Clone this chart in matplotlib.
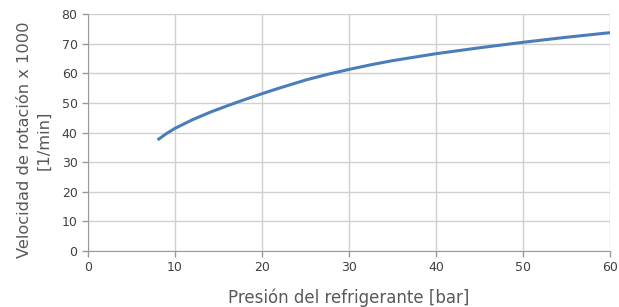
import matplotlib

matplotlib.use("Agg")
import matplotlib.pyplot as plt

pressure = [8, 9, 10, 12, 14, 16, 18, 20, 22, 25, 27.5, 30, 32.5, 35, 40, 45, 50, 55, 60]
speed = [37.5, 39.6, 41.4, 44.3, 46.8, 49.0, 51.1, 53.1, 55.0, 57.7, 59.6, 61.3,
         62.85, 64.25, 66.6, 68.6, 70.45, 72.15, 73.7]

x_ticks = list(range(0, 61, 10))
y_ticks = list(range(0, 81, 10))

TXT = "#595959"
GRID = "#d0d0d0"
AXIS = "#9a9a9a"

plt.rcParams["font.family"] = ["DejaVu Sans"]

fig = plt.figure(figsize=(6.19, 3.07), dpi=100)
ax = fig.add_axes([88 / 619, 1 - 251 / 307, 522 / 619, 237 / 307])

ax.plot(pressure, speed, color="#4a7ebb", linewidth=2.2, solid_capstyle="butt",
        solid_joinstyle="round")

ax.set_xlim(0, 60)
ax.set_ylim(0, 80)
ax.set_xticks(x_ticks)
ax.set_yticks(y_ticks)
ax.grid(True, color=GRID, linewidth=1)
ax.set_axisbelow(True)
for s in ("top", "right"):
    ax.spines[s].set_visible(False)
for s in ("left", "bottom"):
    ax.spines[s].set_color(AXIS)
ax.tick_params(colors=AXIS, labelcolor="#404040", labelsize=9, length=4, width=1)

ax.set_xlabel("Presión del refrigerante [bar]", color=TXT, fontsize=12, labelpad=10)
ax.set_ylabel("Velocidad de rotación x 1000\n[1/min]", color=TXT, fontsize=11.7,
              linespacing=1.4)
ax.yaxis.set_label_coords(-0.07, 0.468)

fig.savefig("out.png", dpi=100)
plt.close(fig)
